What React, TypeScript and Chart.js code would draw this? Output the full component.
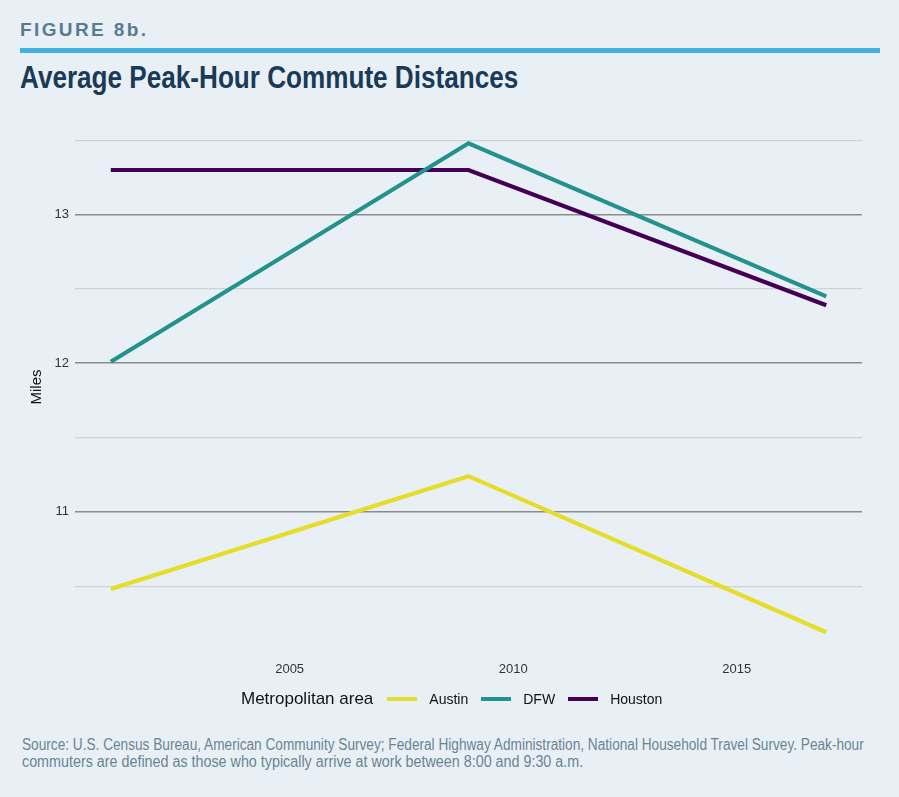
import React, { useEffect, useRef } from "react";
import { Chart, registerables } from "chart.js";

Chart.register(...registerables);

const years = [2001, 2009, 2017];
const seriesNames = ["Austin", "DFW", "Houston"];
const austin = [10.48, 11.24, 10.19];
const dfw = [12.01, 13.48, 12.45];
const houston = [13.3, 13.3, 12.39];
const seriesColors = ["#e6dc2a", "#23918c", "#440154"];
const xTicks = [2005, 2010, 2015];
const yTicks = [10.5, 11, 11.5, 12, 12.5, 13, 13.5];

const BG = "#e9f0f5";

export default function App() {
  const ref = useRef<HTMLCanvasElement | null>(null);

  useEffect(() => {
    if (!ref.current) return;
    const values = [austin, dfw, houston];
    const chart = new Chart(ref.current, {
      type: "line",
      data: {
        datasets: seriesNames.map((name, i) => ({
          label: name,
          data: years.map((y, j) => ({ x: y, y: values[i][j] })),
          borderColor: seriesColors[i],
          backgroundColor: seriesColors[i],
          borderWidth: 4.2,
          pointRadius: 0,
          tension: 0,
          fill: false,
        })),
      },
      options: {
        animation: false,
        responsive: false,
        devicePixelRatio: 1,
        layout: { padding: { top: 18, right: 37, bottom: 0, left: 0 } },
        plugins: { legend: { display: false }, tooltip: { enabled: false } },
        scales: {
          x: {
            type: "linear",
            min: 2000.2,
            max: 2017.8,
            afterBuildTicks: (s: any) => {
              s.ticks = xTicks.map((v) => ({ value: v }));
            },
            afterFit: (s: any) => {
              s.height = 34;
            },
            grid: { display: false, drawTicks: false },
            border: { display: false },
            ticks: {
              padding: 6,
              color: "#333333",
              font: { family: "'Liberation Sans', Arial, sans-serif", size: 13 },
              callback: (v: any) => String(v),
            },
          },
          y: {
            type: "linear",
            min: 10.03,
            max: 13.65,
            afterBuildTicks: (s: any) => {
              s.ticks = yTicks.map((v) => ({ value: v }));
            },
            afterFit: (s: any) => {
              s.width = 75;
            },
            grid: {
              drawTicks: false,
              color: (c: any) =>
                Number.isInteger(c.tick?.value) ? "#8c8c8c" : "#cfd3d6",
              lineWidth: (c: any) => (Number.isInteger(c.tick?.value) ? 1.5 : 1.2),
            },
            border: { display: false },
            title: {
              display: true,
              text: "Miles",
              color: "#111111",
              padding: { top: 28, bottom: 0 },
              font: { family: "'Liberation Sans', Arial, sans-serif", size: 15 },
            },
            ticks: {
              padding: 6,
              color: "#333333",
              font: { family: "'Liberation Sans', Arial, sans-serif", size: 13 },
              callback: (v: any) => (Number.isInteger(v) ? String(v) : ""),
            },
          },
        },
      },
    });
    return () => chart.destroy();
  }, []);

  const footStyle: React.CSSProperties = {
    position: "absolute",
    left: 22,
    fontSize: 16,
    lineHeight: "17px",
    color: "#6a8494",
    whiteSpace: "nowrap",
    transformOrigin: "left top",
  };

  return (
    <div
      style={{
        position: "fixed",
        left: 0,
        top: 0,
        width: 899,
        height: 797,
        background: BG,
        overflow: "hidden",
        fontFamily: "'Liberation Sans', Arial, sans-serif",
      }}
    >
      <div
        style={{
          position: "absolute",
          left: 20,
          top: 19,
          fontSize: 19,
          fontWeight: 700,
          letterSpacing: 2.4,
          color: "#587c8e",
          lineHeight: "22px",
        }}
      >
        FIGURE 8b.
      </div>
      <div
        style={{
          position: "absolute",
          left: 20,
          top: 48,
          width: 860,
          height: 5,
          background: "#43aee0",
        }}
      />
      <div
        style={{
          position: "absolute",
          left: 20,
          top: 59,
          fontSize: 32,
          fontWeight: 700,
          color: "#1b3a57",
          lineHeight: "36px",
          whiteSpace: "nowrap",
          transform: "scaleX(0.816)",
          transformOrigin: "left top",
        }}
      >
        Average Peak-Hour Commute Distances
      </div>
      <canvas
        ref={ref}
        width={899}
        height={590}
        style={{ position: "absolute", left: 0, top: 100, width: 899, height: 590 }}
      />
      <div
        style={{
          position: "absolute",
          left: 241,
          top: 688,
          height: 22,
          display: "flex",
          alignItems: "center",
          color: "#111111",
        }}
      >
        <span style={{ fontSize: 17, marginRight: 14 }}>Metropolitan area</span>
        {seriesNames.map((n, i) => (
          <span key={n} style={{ display: "flex", alignItems: "center", marginRight: 13 }}>
            <span
              style={{
                display: "inline-block",
                width: 30,
                height: 4,
                background: seriesColors[i],
                marginRight: 12,
              }}
            />
            <span style={{ fontSize: 14 }}>{n}</span>
          </span>
        ))}
      </div>
      <div style={{ ...footStyle, top: 736, transform: "scaleX(0.853)" }}>
        Source: U.S. Census Bureau, American Community Survey; Federal Highway Administration, National Household Travel Survey. Peak-hour
      </div>
      <div style={{ ...footStyle, top: 753, transform: "scaleX(0.895)" }}>
        commuters are defined as those who typically arrive at work between 8:00 and 9:30 a.m.
      </div>
    </div>
  );
}
